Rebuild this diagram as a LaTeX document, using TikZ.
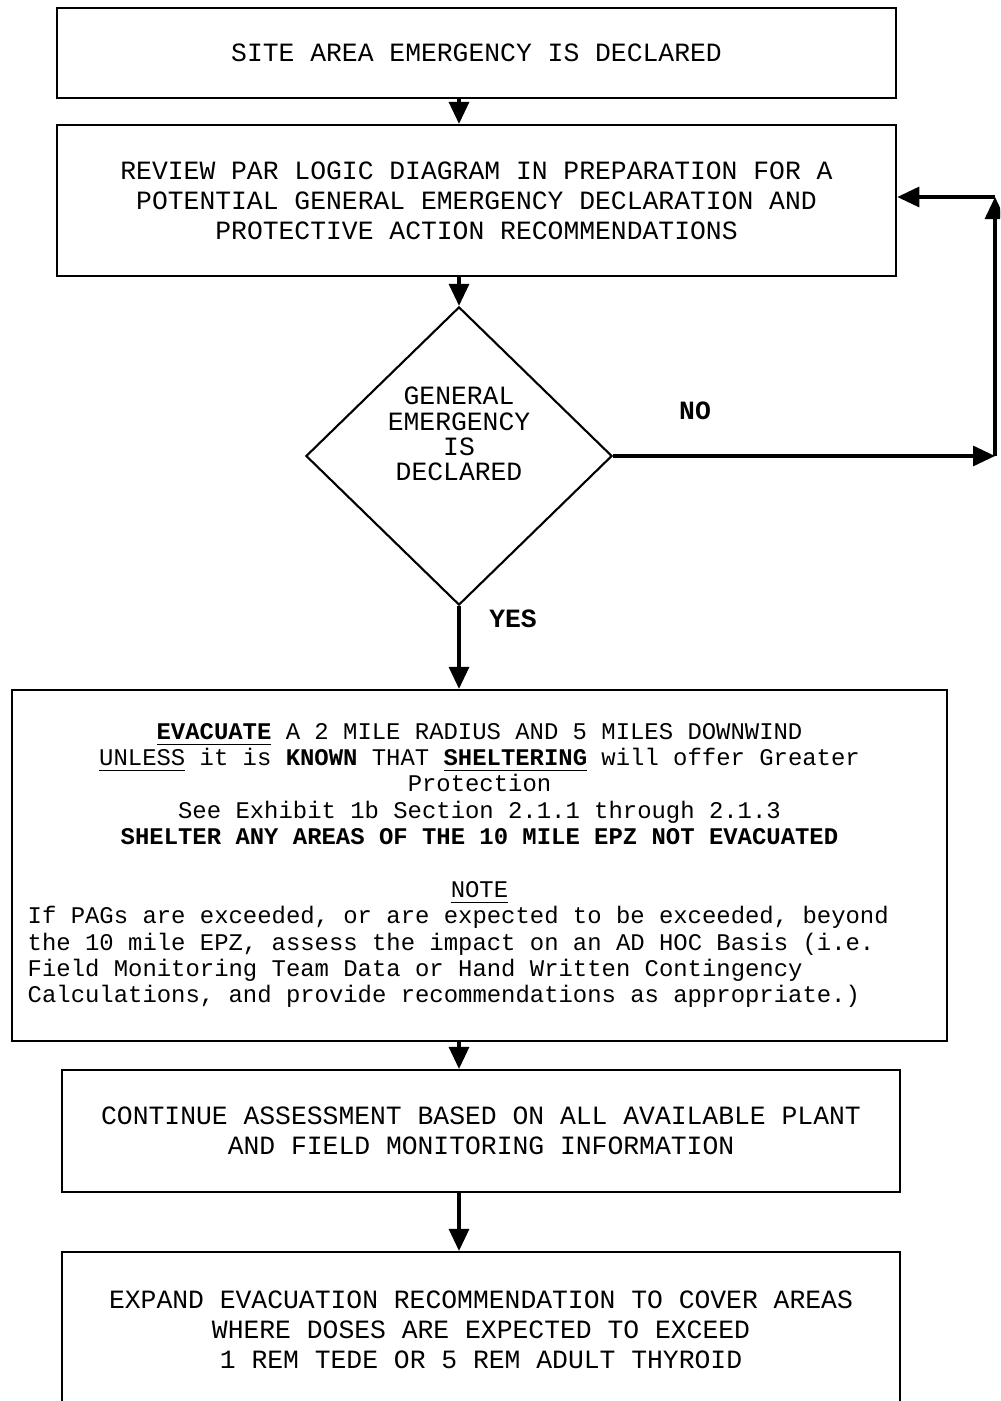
\documentclass[tikz,border=0pt]{standalone}
\usepackage{fontspec}
\newfontfamily\courier{Liberation Mono}
\usetikzlibrary{positioning, arrows.meta, shapes.geometric}

\begin{document}
\begin{tikzpicture}[
    x=0.01cm, y=-0.01cm,
    >={Triangle[length=2.2mm, width=2mm]},
    box/.style={draw, line width=0.6pt, inner sep=0pt, align=center,
                font=\courier\fontsize{7.5}{8.5}\selectfont},
    arr/.style={->, line width=0.9pt},
    answer/.style={font=\courier\bfseries\fontsize{7.5}{8.5}\selectfont}
]

    % --- Pagina ---
    \useasboundingbox (0,0) rectangle (1000,1401);
    \clip (0,0) rectangle (1000,1401);

    % --- Caixas ---
    \node[box, minimum width=8.39cm, minimum height=0.90cm] (site) at (476.5,53)
        {SITE AREA EMERGENCY IS DECLARED};
    \node[box, minimum width=8.39cm, minimum height=1.51cm] (review) at (476.5,200.5)
        {REVIEW PAR LOGIC DIAGRAM IN PREPARATION FOR A\\
         POTENTIAL GENERAL EMERGENCY DECLARATION AND\\
         PROTECTIVE ACTION RECOMMENDATIONS};

    % --- Decisao ---
    \node[diamond, draw, line width=0.6pt, inner sep=0pt,
          minimum width=3.06cm, minimum height=2.98cm] (dec) at (459,456) {};
    \node[align=center, inner sep=0pt, font=\courier\fontsize{7.5}{7.2}\selectfont]
        (dectxt) at (459,434) {GENERAL\\ EMERGENCY\\ IS\\ DECLARED};
    \node[answer] (no) at (695,411) {NO};
    \node[answer] (yes) at (513,619) {YES};

    % --- Evacuacao ---
    \node[box, align=none, text width=9.03cm, inner xsep=0.16cm,
          minimum height=3.51cm, font=\courier\fontsize{6.8}{7.5}\selectfont]
        (evac) at (479.5,865.5) {\centering
        \underline{\textbf{EVACUATE}} A 2 MILE RADIUS AND 5 MILES DOWNWIND\\
        \underline{UNLESS} it is \textbf{KNOWN} THAT \underline{\textbf{SHELTERING}} will offer Greater\\
        Protection\\
        See Exhibit 1b Section 2.1.1 through 2.1.3\\
        \textbf{SHELTER ANY AREAS OF THE 10 MILE EPZ NOT EVACUATED}\\[7.5pt]
        \underline{NOTE}\par
        \raggedright
        If PAGs are exceeded, or are expected to be exceeded, beyond\\
        the 10 mile EPZ, assess the impact on an AD HOC Basis (i.e.\\
        Field Monitoring Team Data or Hand Written Contingency\\
        Calculations, and provide recommendations as appropriate.)\par};

    \node[box, minimum width=8.38cm, minimum height=1.22cm] (cont) at (481,1131)
        {CONTINUE ASSESSMENT BASED ON ALL AVAILABLE PLANT\\
         AND FIELD MONITORING INFORMATION};
    \node[box, minimum width=8.38cm, minimum height=1.56cm] (expand) at (481,1330)
        {EXPAND EVACUATION RECOMMENDATION TO COVER AREAS\\
         WHERE DOSES ARE EXPECTED TO EXCEED\\
         1 REM TEDE OR 5 REM ADULT THYROID};

    % --- Ligacoes ---
    \draw[arr] (site.south -| dec) -- (review.north -| dec);
    \draw[arr] (review.south -| dec) -- (dec.north);
    \draw[arr] (dec.south) -- (evac.north -| dec);
    \draw[arr] (evac.south -| dec) -- (cont.north -| dec);
    \draw[arr] (cont.south -| dec) -- (expand.north -| dec);

    % --- Retorno (NO) ---
    \coordinate (noend) at (995,456);
    \coordinate (noup) at (995,197);
    \draw[arr] (dec.east) -- (noend);
    \draw[arr] (noend) -- (noup);
    \draw[arr] (noup) -- (review.east |- noup);

\end{tikzpicture}
\end{document}
